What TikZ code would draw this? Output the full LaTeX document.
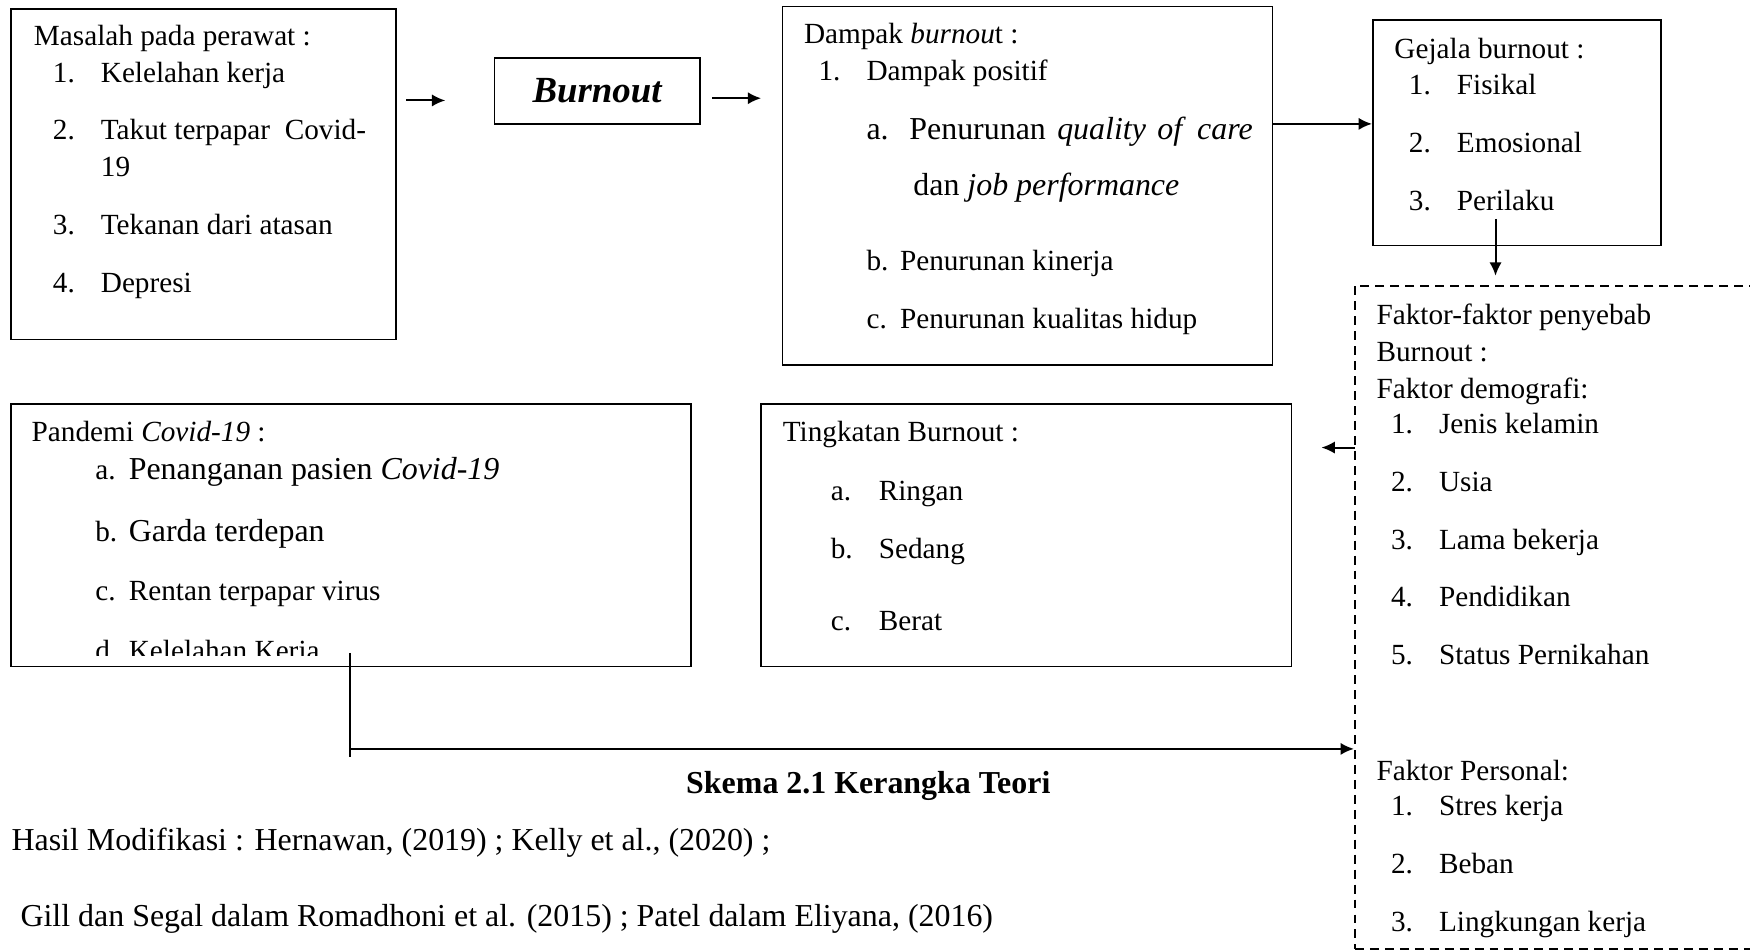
\documentclass[tikz,border=0pt]{standalone}
\usepackage{fontspec}
\setmainfont{Liberation Serif}
\usetikzlibrary{arrows.meta,fit,calc}
\begin{document}
\begin{tikzpicture}[x=0.5pt,y=-0.5pt,
 box/.style={draw, line width=0.7pt, inner sep=0pt},
 dbox/.style={draw, line width=0.9pt, dash pattern=on 4pt off 2.7pt, inner sep=0pt},
 txt/.style={anchor=base west, inner sep=0pt, font=\fontsize{13.1}{15}\selectfont},
 big/.style={anchor=base west, inner sep=0pt, font=\fontsize{14.3}{16}\selectfont},
 arr/.style={line width=0.9pt, -{Latex[length=6pt,width=5.5pt]}},
 ln/.style={line width=0.9pt}]
\clip (0,0) rectangle (1568,852);
\fill[white] (0,0) rectangle (1568,852);
% boxes
\node[box, fit={(10,8) (355,304)}] (m) {};
\node[box, fit={(443,52) (627,111)}] (b) {};
\node[box, fit={(701,6) (1140,327)}] (d) {};
\node[box, fit={(1230,18) (1488,220)}] (g) {};
\node[dbox, fit={(1214,256) (1580,850)}] (f) {};
\node[box, fit={(682,362) (1157,597)}] (t) {};
\node[box, fit={(10,362) (619,597)}] (p) {};
% Masalah
\node[txt] (m0) at (30,41) {Masalah pada perawat :};
\node[txt] (m1n) at (47,74) {1.}; \node[txt] (m1) at (90,74) {Kelelahan kerja};
\node[txt] (m2n) at (47,125) {2.}; \node[txt] (m2) at (90,125) {Takut terpapar\ \ Covid-};
\node[txt] (m2b) at (90,158) {19};
\node[txt] (m3n) at (47,210) {3.}; \node[txt] (m3) at (90,210) {Tekanan dari atasan};
\node[txt] (m4n) at (47,262) {4.}; \node[txt] (m4) at (90,262) {Depresi};
% Burnout
\node[inner sep=0pt, font=\fontsize{16.5}{18}\selectfont\bfseries\itshape] (bt) at (b.center) {Burnout};
% Dampak
\node[txt] (d0) at (720,39) {Dampak \textit{burnou}t :};
\node[txt] (d1n) at (733,72) {1.}; \node[txt] (d1) at (776,72) {Dampak positif};
\node[big] (da) at (776,125) {\makebox[173pt][s]{a. Penurunan \textit{quality} \textit{of} \textit{care}}};
\node[big] (da2) at (818,175) {dan \textit{job performance}};
\node[txt] (dbn) at (776,242) {b.}; \node[txt] (db) at (806,242) {Penurunan kinerja};
\node[txt] (dcn) at (776,294) {c.}; \node[txt] (dc) at (806,294) {Penurunan kualitas hidup};
% Gejala
\node[txt] (g0) at (1249,52) {Gejala burnout :};
\node[txt] (g1n) at (1262,85) {1.}; \node[txt] (g1) at (1305,85) {Fisikal};
\node[txt] (g2n) at (1262,137) {2.}; \node[txt] (g2) at (1305,137) {Emosional};
\node[txt] (g3n) at (1262,189) {3.}; \node[txt] (g3) at (1305,189) {Perilaku};
% Faktor
\node[txt] (f0) at (1233,291) {Faktor-faktor penyebab};
\node[txt] (f0b) at (1233,324) {Burnout :};
\node[txt] (f0c) at (1233,357) {Faktor demografi:};
\node[txt] (f1n) at (1246,388) {1.}; \node[txt] (f1) at (1289,388) {Jenis kelamin};
\node[txt] (f2n) at (1246,440) {2.}; \node[txt] (f2) at (1289,440) {Usia};
\node[txt] (f3n) at (1246,492) {3.}; \node[txt] (f3) at (1289,492) {Lama bekerja};
\node[txt] (f4n) at (1246,543) {4.}; \node[txt] (f4) at (1289,543) {Pendidikan};
\node[txt] (f5n) at (1246,595) {5.}; \node[txt] (f5) at (1289,595) {Status Pernikahan};
\node[txt] (fp) at (1233,699) {Faktor Personal:};
\node[txt] (fp1n) at (1246,731) {1.}; \node[txt] (fp1) at (1289,731) {Stres kerja};
\node[txt] (fp2n) at (1246,783) {2.}; \node[txt] (fp2) at (1289,783) {Beban};
\node[txt] (fp3n) at (1246,835) {3.}; \node[txt] (fp3) at (1289,835) {Lingkungan kerja};
% Pandemi
\node[txt] (p0) at (28,396) {Pandemi \textit{Covid-19} :};
\node[txt] (pan) at (85,430) {a.}; \node[big] (pa) at (115,430) {Penanganan pasien \textit{Covid-19}};
\node[txt] (pbn) at (85,485) {b.}; \node[big] (pb) at (115,485) {Garda terdepan};
\node[txt] (pcn) at (85,538) {c.}; \node[txt] (pc) at (115,538) {Rentan terpapar virus};
\begin{scope}
\clip (p.north west) rectangle ([yshift=5pt]p.south east);
\node[txt] (pdn) at (85,592) {d.}; \node[txt] (pd) at (115,592) {Kelelahan Kerja};
\end{scope}
% Tingkatan
\node[txt] (t0) at (701,396) {Tingkatan Burnout :};
\node[txt] (t1n) at (744,448) {a.}; \node[txt] (t1) at (787,448) {Ringan};
\node[txt] (t2n) at (744,500) {b.}; \node[txt] (t2) at (787,500) {Sedang};
\node[txt] (t3n) at (744,565) {c.}; \node[txt] (t3) at (787,565) {Berat};
% bottom texts
\node[anchor=base, inner sep=0pt, font=\fontsize{14.3}{16}\selectfont\bfseries] (cap) at (778,711) {Skema 2.1 Kerangka Teori};
\node[big] (h1) at (10,762) {Hasil Modifikasi : Hernawan, (2019) ; Kelly et al., (2020) ;};
\node[big] (h2) at (18,830) {Gill dan Segal dalam Romadhoni et al. (2015) ; Patel dalam Eliyana, (2016)};
% connectors
\coordinate (a1s) at (364,90); \coordinate (a1e) at (399,90);
\draw[arr] (a1s) -- (a1e);
\coordinate (a2s) at (638,88); \coordinate (a2e) at (682,88);
\draw[arr] (a2s) -- (a2e);
\draw[arr] ([yshift=4pt]g.west -| d.east) -- ([yshift=4pt]g.west);
\coordinate (a4s) at (1340,196);
\draw[arr, shorten >=4pt] (a4s) -- (a4s |- f.north);
\coordinate (a5s) at (1214,401); \coordinate (a5e) at (1184,401);
\draw[arr] (a5s) -- (a5e);
\coordinate (a6s) at (314,585); \coordinate (a6b) at (314,678); \coordinate (a6c) at (314,671);
\draw[ln] (a6s) -- (a6b);
\draw[arr] (a6c) -- (a6c -| f.west);
\end{tikzpicture}
\end{document}
